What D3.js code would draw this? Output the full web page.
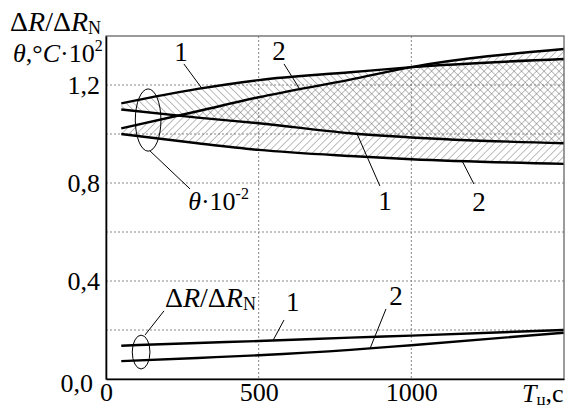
<!DOCTYPE html>
<html>
<head>
<meta charset="utf-8">
<script src="https://cdn.jsdelivr.net/npm/d3@7/dist/d3.min.js"></script>
<style>
  body { margin: 0; background: #fff; }
  svg { display: block; font-family: "Liberation Serif", "Times New Roman", serif; }
</style>
</head>
<body>
<div id="chart"></div>
<script>
// time values (s) where the curves were read
var times = [50, 300, 500, 800, 1000, 1500];

// theta*10^-2 bands
var band1Upper = [1.125, 1.184, 1.220, 1.252, 1.273, 1.306];
var band1Lower = [1.100, 1.067, 1.044, 1.003, 0.986, 0.962];
var band2Upper = [1.023, 1.093, 1.150, 1.222, 1.273, 1.347];
var band2Lower = [1.000, 0.962, 0.935, 0.910, 0.897, 0.878];

// dR/dR_N curves
var ratio1 = [0.136, 0.147, 0.155, 0.169, 0.177, 0.200];
var ratio2 = [0.073, 0.086, 0.097, 0.119, 0.138, 0.189];

var xTicks = [0, 500, 1000];
var yTicks = [0, 0.4, 0.8, 1.2];
var yGrid = [0.2, 0.4, 0.6, 0.8, 1.0, 1.2];
var xGrid = [500, 1000];

//Width and height
var w = 571;
var h = 405;
var plotL = 106, plotR = 564, plotT = 36, plotB = 379;

var x = d3.scaleLinear().domain([0, 1500]).range([plotL, plotR]);
var y = d3.scaleLinear().domain([0, 1.4]).range([plotB, plotT]);

var svg = d3.select('#chart')
            .append('svg')
            .attr('width', w)
            .attr('height', h);

// hatch patterns
var defs = svg.append('defs');
function hatch(id, angle) {
  defs.append('pattern')
      .attr('id', id)
      .attr('patternUnits', 'userSpaceOnUse')
      .attr('width', 5.3)
      .attr('height', 5.3)
      .attr('patternTransform', 'rotate(' + angle + ')')
    .append('line')
      .attr('x1', 0).attr('y1', 0)
      .attr('x2', 0).attr('y2', 5.3)
      .attr('stroke', '#6a6a6a')
      .attr('stroke-width', 0.9);
}
hatch('hatchBack', -45);   // band 1 "\"
hatch('hatchFwd', 45);     // band 2 "/"

// grid
svg.append('g').selectAll('line')
  .data(yGrid).enter().append('line')
  .attr('x1', plotL).attr('x2', plotR)
  .attr('y1', function (d) { return y(d); })
  .attr('y2', function (d) { return y(d); })
  .attr('stroke', '#888').attr('stroke-width', 1)
  .attr('stroke-dasharray', '2,2');

svg.append('g').selectAll('line')
  .data(xGrid).enter().append('line')
  .attr('y1', plotT).attr('y2', plotB)
  .attr('x1', function (d) { return x(d); })
  .attr('x2', function (d) { return x(d); })
  .attr('stroke', '#888').attr('stroke-width', 1)
  .attr('stroke-dasharray', '2,2');

// band areas
function band(lo, hi) {
  return d3.area()
    .x(function (d, i) { return x(times[i]); })
    .y0(function (d, i) { return y(lo[i]); })
    .y1(function (d, i) { return y(hi[i]); })
    .curve(d3.curveMonotoneX)(times);
}
svg.append('path').attr('d', band(band1Lower, band1Upper)).attr('fill', 'url(#hatchBack)');
svg.append('path').attr('d', band(band2Lower, band2Upper)).attr('fill', 'url(#hatchFwd)');

// curves
var line = d3.line()
  .x(function (d, i) { return x(times[i]); })
  .y(function (d) { return y(d); })
  .curve(d3.curveMonotoneX);

[band1Upper, band1Lower, band2Upper, band2Lower, ratio1, ratio2].forEach(function (s) {
  svg.append('path')
     .attr('d', line(s))
     .attr('fill', 'none')
     .attr('stroke', '#000')
     .attr('stroke-width', 2.4);
});

// frame
svg.append('rect')
   .attr('x', plotL).attr('y', plotT)
   .attr('width', plotR - plotL).attr('height', plotB - plotT)
   .attr('fill', 'none').attr('stroke', '#666').attr('stroke-width', 1.3);

// axes
var fmt = d3.formatLocale({decimal: ',', thousands: '', grouping: [3], currency: ['', '']}).format('.1f');

var xAxis = svg.append('g')
   .attr('transform', 'translate(0,' + plotB + ')')
   .call(d3.axisBottom(x).tickValues(xTicks).tickSize(0).tickPadding(4).tickFormat(d3.format('d')));
var yAxis = svg.append('g')
   .attr('transform', 'translate(' + plotL + ',0)')
   .call(d3.axisLeft(y).tickValues(yTicks).tickSize(0).tickPadding(6).tickFormat(fmt));

[xAxis, yAxis].forEach(function (g) {
  g.attr('font-family', null);
  g.select('.domain').attr('stroke', '#000').attr('stroke-width', 1.6);
  g.selectAll('text').attr('font-size', 26).attr('fill', '#000');
});
// the 0,0 label sits a bit lower and left of the corner
yAxis.selectAll('.tick text').filter(function (d) { return d === 0; })
   .attr('x', -13).attr('dy', '0.75em').attr('y', -7);

// x axis title
var xt = svg.append('text').attr('x', 522).attr('y', 402).attr('font-size', 26);
xt.append('tspan').attr('font-style', 'italic').text('T');
xt.append('tspan').attr('font-size', 17).attr('dy', 3).text('ц');
xt.append('tspan').attr('dy', -3).text(',с');

// y axis title
var t1 = svg.append('text').attr('x', 10).attr('y', 31).attr('font-size', 28);
t1.append('tspan').text('Δ');
t1.append('tspan').attr('font-style', 'italic').text('R');
t1.append('tspan').text('/Δ');
t1.append('tspan').attr('font-style', 'italic').text('R');
t1.append('tspan').attr('font-size', 18).attr('dy', 3).text('N');

var t2 = svg.append('text').attr('x', 13).attr('y', 62).attr('font-size', 26);
t2.append('tspan').attr('font-style', 'italic').text('θ');
t2.append('tspan').text(',°');
t2.append('tspan').attr('font-style', 'italic').text('C');
t2.append('tspan').text('·10');
t2.append('tspan').attr('font-size', 16).attr('dy', -11).text('2');

// curve labels with leaders: [label T, label value, leader start T, value, series, leader end T]
var labels = [
  ['1', 246, 1.298, 255, 1.286, band1Upper, 314],
  ['2', 567, 1.302, 583, 1.286, band2Upper, 635],
  ['1', 914, 0.690, 897, 0.788, band1Lower, 822],
  ['2', 1222, 0.686, 1205, 0.796, band2Lower, 1166],
  ['1', 612, 0.278, 583, 0.241, ratio1, 547],
  ['2', 950, 0.302, 917, 0.286, ratio2, 865]
];
labels.forEach(function (l) {
  var onCurve = d3.scaleLinear().domain(times).range(l[5]);
  svg.append('line')
     .attr('x1', x(l[3])).attr('y1', y(l[4]))
     .attr('x2', x(l[6])).attr('y2', y(onCurve(l[6])))
     .attr('stroke', '#000').attr('stroke-width', 1);
  svg.append('text')
     .attr('x', x(l[1])).attr('y', y(l[2]))
     .attr('text-anchor', 'middle')
     .attr('font-size', 27)
     .text(l[0]);
});

// ellipses marking the groups
var ellipses = [
  {t: 138, v: 1.057, rt: 42, rv: 0.127, from: [144, 0.931], to: [275, 0.776]},
  {t: 115, v: 0.110, rt: 29, rv: 0.069, from: [128, 0.180], to: [190, 0.278]}
];
ellipses.forEach(function (e) {
  svg.append('ellipse')
     .attr('cx', x(e.t)).attr('cy', y(e.v))
     .attr('rx', x(e.rt) - x(0)).attr('ry', y(0) - y(e.rv))
     .attr('fill', 'none').attr('stroke', '#000').attr('stroke-width', 1);
  svg.append('line')
     .attr('x1', x(e.from[0])).attr('y1', y(e.from[1]))
     .attr('x2', x(e.to[0])).attr('y2', y(e.to[1]))
     .attr('stroke', '#000').attr('stroke-width', 1);
});

var th = svg.append('text').attr('x', x(269)).attr('y', y(0.69)).attr('font-size', 26);
th.append('tspan').attr('font-style', 'italic').text('θ');
th.append('tspan').text('·10');
th.append('tspan').attr('font-size', 16).attr('dy', -11).text('-2');

var dr = svg.append('text').attr('x', x(193)).attr('y', y(0.294)).attr('font-size', 28);
dr.append('tspan').text('Δ');
dr.append('tspan').attr('font-style', 'italic').text('R');
dr.append('tspan').text('/Δ');
dr.append('tspan').attr('font-style', 'italic').text('R');
dr.append('tspan').attr('font-size', 18).attr('dy', 3).text('N');
</script>
</body>
</html>
